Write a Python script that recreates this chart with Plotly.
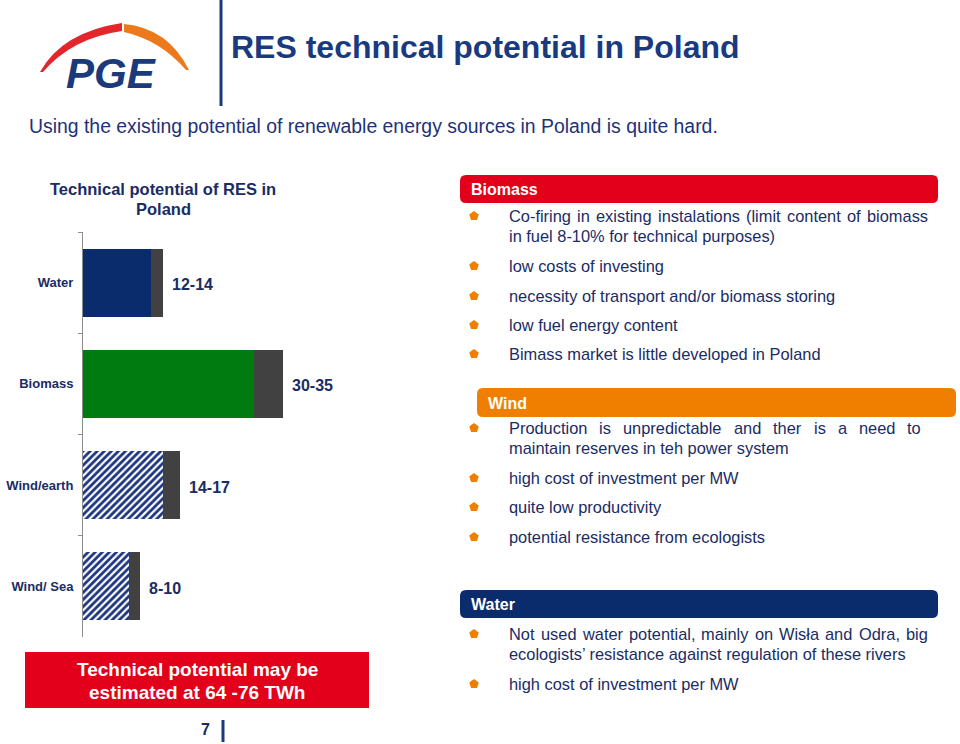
import plotly.graph_objects as go

# ---------------- data ----------------
categories = ["Water", "Biomass", "Wind/earth", "Wind/ Sea"]
low_values = [12, 30, 14, 8]
high_values = [14, 35, 17, 10]
range_labels = [f"{lo}-{hi}" for lo, hi in zip(low_values, high_values)]
bar_colors = ["#0b2c6c", "#007b10", "#1d3480", "#1d3480"]
bar_patterns = ["", "", "/", "/"]

chart_title = ["Technical potential of RES in", "Poland"]
slide_title = "RES technical potential in Poland"
subtitle = "Using the existing potential of renewable energy sources in Poland is quite hard."
summary_lines = ["Technical potential may be", "estimated at 64 -76 TWh"]

biomass_points = [
    ["Co-firing in existing instalations (limit content of biomass",
     "in fuel 8-10% for technical purposes)"],
    ["low costs of investing"],
    ["necessity of transport and/or biomass storing"],
    ["low fuel energy content"],
    ["Bimass market is little developed in Poland"],
]
wind_points = [
    ["Production is unpredictable and ther is a need to",
     "maintain reserves in teh power system"],
    ["high cost of investment per MW"],
    ["quite low productivity"],
    ["potential resistance from ecologists"],
]
water_points = [
    ["Not used water potential, mainly on Wisła and Odra, big",
     "ecologists\u2019 resistance against regulation of these rivers"],
    ["high cost of investment per MW"],
]

# ---------------- style ----------------
NAVY = "#1a2c64"
TITLE_NAVY = "#1a3a80"
RED = "#e2001a"
ORANGE = "#f07f00"
DARK_NAVY = "#0b2c6c"
GREY = "#414141"
FONT = "Liberation Sans, Arial, sans-serif"
W, H = 960, 744
BODY = 16.4

# Arial / Liberation Sans advance widths (1/1000 em)
AW = {' ': 278, 'a': 556, 'b': 556, 'c': 500, 'd': 556, 'e': 556, 'f': 278, 'g': 556,
      'h': 556, 'i': 222, 'j': 222, 'k': 500, 'l': 222, 'm': 833, 'n': 556, 'o': 556,
      'p': 556, 'q': 556, 'r': 333, 's': 500, 't': 278, 'u': 556, 'v': 500, 'w': 722,
      'x': 500, 'y': 500, 'z': 500, 'ł': 222, 'A': 667, 'B': 667, 'C': 722, 'D': 722,
      'E': 667, 'F': 611, 'G': 778, 'H': 722, 'I': 278, 'M': 833, 'N': 722, 'O': 778,
      'P': 667, 'R': 722, 'S': 667, 'T': 611, 'W': 944, '(': 333, ')': 333, '-': 333,
      ',': 278, '.': 278, '/': 278, '%': 889, '\u2019': 222}


def text_width(s, size):
    return sum(AW.get(ch, 556) for ch in s) * size / 1000.0


fig = go.Figure()

# bar chart: low value + uncertainty range
fig.add_trace(go.Bar(
    y=categories, x=low_values, orientation="h",
    marker=dict(color=bar_colors, line=dict(width=0),
                pattern=dict(shape=bar_patterns, bgcolor="white", size=5,
                             solidity=0.55, fillmode="replace")),
    hoverinfo="skip", showlegend=False, xaxis="x", yaxis="y"))
fig.add_trace(go.Bar(
    y=categories, x=[h - l for h, l in zip(high_values, low_values)], orientation="h",
    marker=dict(color=GREY, line=dict(width=0)),
    hoverinfo="skip", showlegend=False, xaxis="x", yaxis="y"))

annotations = []
shapes = []

for cat, hi, lab in zip(categories, high_values, range_labels):
    annotations.append(dict(x=hi, y=cat, xref="x", yref="y", text=f"<b>{lab}</b>",
                            showarrow=False, xanchor="left", yanchor="middle", xshift=7,
                            yshift=-2, font=dict(family=FONT, size=16, color=NAVY)))


def pa(x, y, text, size, color=NAVY, bold=False, xanchor="left", italic=False):
    t = f"<b>{text}</b>" if bold else text
    if italic:
        t = f"<i>{t}</i>"
    annotations.append(dict(x=x, y=y, xref="x2", yref="y2", text=t, showarrow=False,
                            xanchor=xanchor, yanchor="middle", borderpad=0,
                            font=dict(family=FONT, size=size, color=color)))


def rrect(x0, y0, x1, y1, r, color):
    p = (f"M{x0 + r},{y0} L{x1 - r},{y0} Q{x1},{y0} {x1},{y0 + r} L{x1},{y1 - r} "
         f"Q{x1},{y1} {x1 - r},{y1} L{x0 + r},{y1} Q{x0},{y1} {x0},{y1 - r} "
         f"L{x0},{y0 + r} Q{x0},{y0} {x0 + r},{y0} Z")
    shapes.append(dict(type="path", path=p, xref="x2", yref="y2", fillcolor=color,
                       line=dict(width=0), layer="below"))


# header bar: logo, vertical rule, titles
shapes.append(dict(type="path", xref="x2", yref="y2", fillcolor="#e3262b", line=dict(width=0),
                   path="M40,72 Q62,32 122,23 L122,31 Q72,38 43,72 Z"))
shapes.append(dict(type="path", xref="x2", yref="y2", fillcolor="#ec7a1d", line=dict(width=0),
                   path="M124,24 Q168,28 189,70 L186,70 Q160,40 124,32 Z"))
pa(111, 73, "PGE", 42, color="#1a3a7c", bold=True, xanchor="center", italic=True)
shapes.append(dict(type="line", xref="x2", yref="y2", x0=221, x1=221, y0=0, y1=106,
                   line=dict(color=TITLE_NAVY, width=3)))
pa(230, 47, slide_title, 32, color=TITLE_NAVY, bold=True)
pa(28, 126, subtitle, 19.4, color="#1d3278")

# chart title
pa(163, 189, chart_title[0], 16.5, bold=True, xanchor="center")
pa(163, 209, chart_title[1], 16.5, bold=True, xanchor="center")

# summary box
shapes.append(dict(type="rect", xref="x2", yref="y2", x0=25, x1=369, y0=652, y1=708,
                   fillcolor=RED, line=dict(width=0)))
pa(197, 669, summary_lines[0], 19, color="white", bold=True, xanchor="center")
pa(197, 692, summary_lines[1], 19, color="white", bold=True, xanchor="center")

# page number
pa(205, 729, "7", 16, bold=True, xanchor="center")
shapes.append(dict(type="line", xref="x2", yref="y2", x0=223, x1=223, y0=720, y1=742,
                   line=dict(color=TITLE_NAVY, width=3)))

# right side panels
panels = [
    ("Biomass", RED, (460, 175, 938, 203), biomass_points, [216, 266, 296, 325, 354], 927),
    ("Wind", ORANGE, (477, 388, 956, 417), wind_points, [428, 478, 507, 537], 920),
    ("Water", DARK_NAVY, (460, 590, 938, 618), water_points, [634, 684], 927),
]
bullet_x, bullet_y = [], []
TX = 508
for name, col, (x0, y0, x1, y1), points, ys, right in panels:
    rrect(x0, y0, x1, y1, 6, col)
    pa(x0 + 10, (y0 + y1) / 2 + 0.5, name, 16, color="white", bold=True)
    for lines, yy in zip(points, ys):
        bullet_x.append(474)
        bullet_y.append(yy)
        for k, line in enumerate(lines):
            ly = yy + 20 * k
            if k < len(lines) - 1:
                words = line.split(" ")
                ww = [text_width(w_, BODY) for w_ in words]
                gap = (right - TX - sum(ww)) / (len(words) - 1)
                x = TX
                for w_, wid in zip(words, ww):
                    pa(x, ly, w_, BODY)
                    x += wid + gap
            else:
                pa(TX, ly, line, BODY)

fig.add_trace(go.Scatter(x=bullet_x, y=bullet_y, mode="markers", xaxis="x2", yaxis="y2",
                         marker=dict(symbol="pentagon", size=10, color=ORANGE),
                         hoverinfo="skip", showlegend=False))

X0 = 83
SCALE = 5.7
XMAX = 40
fig.update_layout(
    width=W, height=H,
    margin=dict(l=0, r=0, t=0, b=0),
    paper_bgcolor="white", plot_bgcolor="rgba(0,0,0,0)",
    barmode="stack", bargap=0.33,
    font=dict(family=FONT, color=NAVY),
    xaxis=dict(domain=[X0 / W, (X0 + SCALE * XMAX) / W], range=[0, XMAX], visible=False,
               fixedrange=True),
    yaxis=dict(domain=[1 - 637 / H, 1 - 232 / H], type="category",
               categoryorder="array", categoryarray=categories, autorange="reversed",
               showline=True, linecolor="#8c8c8c", linewidth=1, ticks="outside",
               tickson="boundaries", ticklen=4, tickcolor="#8c8c8c", showgrid=False,
               zeroline=False, ticklabelstandoff=6,
               tickfont=dict(family=FONT, size=13, color=NAVY), fixedrange=True,
               tickprefix="<b>", ticksuffix="</b>"),
    xaxis2=dict(domain=[0, 1], range=[0, W], visible=False, anchor="y2", fixedrange=True),
    yaxis2=dict(domain=[0, 1], range=[H, 0], visible=False, anchor="x2", fixedrange=True),
    annotations=annotations,
    shapes=shapes,
)

fig.write_html("out.html")
